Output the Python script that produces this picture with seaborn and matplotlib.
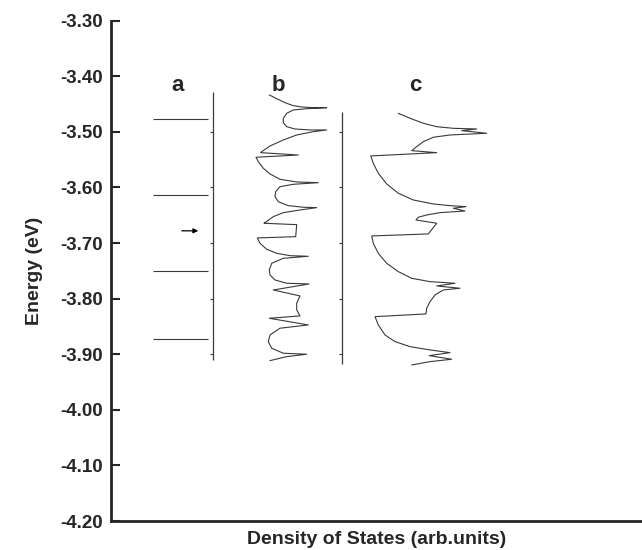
import matplotlib
matplotlib.use("Agg")
import pandas as pd
import matplotlib.pyplot as plt
import seaborn as sns

# ============================
# Dados
# ============================
# painel a: niveis discretos (eV)
niveis_a = [-3.477, -3.614, -3.750, -3.873]
seta_a = -3.678

# painel b
energia_b = [-3.4336, -3.4403, -3.4475, -3.4529, -3.4552, -3.4565, -3.4565, -3.4583, -3.4606,
             -3.4666, -3.4755, -3.4835, -3.4907, -3.4948, -3.4966, -3.4966, -3.4996, -3.5056,
             -3.5146, -3.5254, -3.5356, -3.5374, -3.5416, -3.5457, -3.5536, -3.5655, -3.5757,
             -3.5853, -3.5901, -3.5914, -3.5943, -3.5986, -3.6076, -3.6166, -3.6256, -3.6327,
             -3.6356, -3.6363, -3.6405, -3.6453, -3.6525, -3.6633, -3.6644, -3.6669, -3.6885,
             -3.6908, -3.7004, -3.7112, -3.7184, -3.7227, -3.7238, -3.7274, -3.7364, -3.7484,
             -3.7574, -3.7664, -3.7723, -3.7736, -3.7844, -3.7952, -3.8083, -3.8203, -3.8311,
             -3.8353, -3.8473, -3.8532, -3.8653, -3.8773, -3.8892, -3.8982, -3.9000, -3.9043,
             -3.9115]
dos_b = [56.3, 63.7, 72, 80.3, 88.7, 100.3, 113.7, 93.7, 80.3, 73.7, 70.3, 70.3, 73.7, 82, 97,
         113.7, 100.3, 83.7, 70.3, 57, 48.7, 47.7, 85.3, 43, 45.3, 50.3, 57, 67, 83.7, 105.3,
         80.3, 67, 62.7, 62, 65.3, 75.3, 90.3, 103.7, 87, 70.3, 60.3, 52, 51, 83.7, 82.7, 44.3,
         47, 53.7, 63.7, 77, 95.3, 70.3, 58.7, 56.3, 57, 62, 73.7, 96, 60.3, 87, 83.7, 83.7, 87,
         56.3, 95.3, 67, 57, 55.3, 58.7, 70.3, 93.7, 73.7, 57]

# painel c
energia_c = [-3.4666, -3.4755, -3.4845, -3.4907, -3.4936, -3.4948, -3.4978, -3.4996, -3.5025,
             -3.5056, -3.5097, -3.5176, -3.5266, -3.5338, -3.5374, -3.5433, -3.5565, -3.5745,
             -3.5937, -3.6104, -3.6225, -3.6297, -3.6327, -3.6345, -3.6374, -3.6423, -3.6453,
             -3.6495, -3.6536, -3.6585, -3.6644, -3.6836, -3.6872, -3.7004, -3.7184, -3.7364,
             -3.7514, -3.7634, -3.7694, -3.7723, -3.7772, -3.7813, -3.7844, -3.7934, -3.8054,
             -3.8173, -3.8275, -3.8324, -3.8473, -3.8653, -3.8773, -3.8863, -3.8923, -3.8971,
             -3.9025, -3.9090, -3.9133, -3.9193]
dos_c = [56.3, 68, 81.3, 94.7, 111.3, 134.7, 119.7, 129.7, 144.7, 108, 91.3, 81.3, 74.7, 69.7,
         94.7, 28.7, 31.3, 36.3, 44.7, 56.3, 71.3, 91.3, 108, 124, 111.3, 123, 98, 84.7, 76.3,
         74, 94.7, 86.3, 29.7, 31.3, 36.3, 44.7, 56.3, 69.7, 88, 113, 94.7, 118, 101.3, 93, 88,
         84.7, 84, 33, 36.3, 43, 53, 68, 88, 108, 87.3, 109.7, 88, 69.7]

marcas_painel = [-3.50, -3.60, -3.70, -3.80, -3.90]
yticks = [-4.20, -4.10, -4.00, -3.90, -3.80, -3.70, -3.60, -3.50, -3.40, -3.30]

# posicoes (unidades arb.)
BASE_A = 102
BASE_C = 231
COR = "#3a3a3a"

df_b = pd.DataFrame({"E": energia_b, "x": [BASE_A + v for v in dos_b]})
df_c = pd.DataFrame({"E": energia_c, "x": [BASE_C + v for v in dos_c]})

sns.set_style("ticks")
plt.rcParams["font.family"] = ["Liberation Sans", "DejaVu Sans"]

fig = plt.figure(figsize=(6.42, 5.5), dpi=100)
ax = fig.add_axes([0.1729, 0.0527, 0.8271, 0.9097])

# painel a
ax.hlines(niveis_a, 42, 97, color=COR, lw=0.8)
ax.vlines(BASE_A, -3.910, -3.428, color=COR, lw=0.9)
ax.annotate("", xy=(90, seta_a), xytext=(68, seta_a),
            arrowprops=dict(arrowstyle="-|>", color="black", lw=0.9, mutation_scale=7))

# painel b e c
sns.lineplot(data=df_b, x="x", y="E", sort=False, estimator=None, color=COR, lw=0.8, ax=ax)
sns.lineplot(data=df_c, x="x", y="E", sort=False, estimator=None, color=COR, lw=0.8, ax=ax)
ax.vlines(BASE_C, -3.918, -3.464, color=COR, lw=0.9)

for base in (BASE_A, BASE_C):
    ax.hlines(marcas_painel, base - 3, base, color=COR, lw=0.8)

for txt, xp in (("a", 67), ("b", 167), ("c", 304)):
    ax.text(xp, -3.4157, txt, ha="center", va="center", fontsize=16, fontweight="bold")

ax.set_xlim(0, 531)
ax.set_ylim(-4.20, -3.30)
ax.set_yticks(yticks)
ax.set_yticklabels([f"{t:.2f}" for t in yticks], fontsize=13.5, fontweight="bold")
ax.set_xticks([])
ax.tick_params(axis="y", direction="in", length=6.5, width=1.5, pad=6)
ax.set_ylabel("Energy (eV)", fontsize=14, fontweight="bold", labelpad=12)
ax.set_xlabel("Density of States (arb.units)", fontsize=14, fontweight="bold", labelpad=7)
sns.despine(ax=ax)
ax.spines["left"].set_linewidth(2)
ax.spines["bottom"].set_linewidth(2)

fig.savefig("out.png", dpi=100)
